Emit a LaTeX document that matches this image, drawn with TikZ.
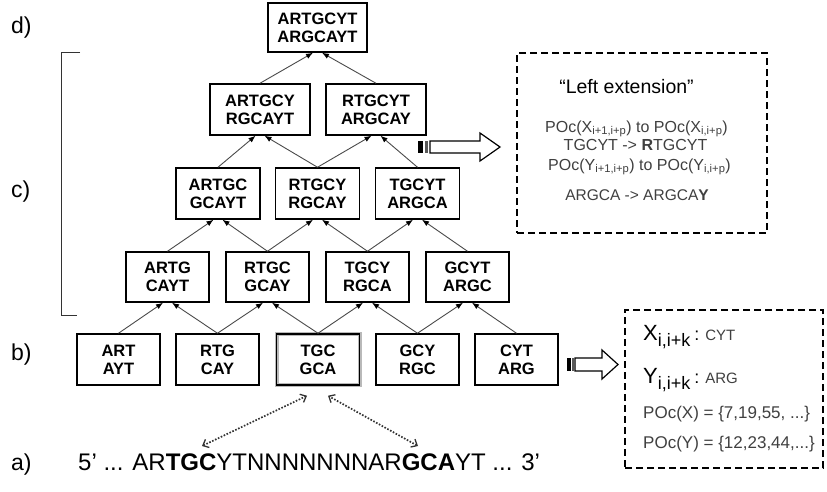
\documentclass[tikz,border=0pt]{standalone}
\usepackage{fontspec}
\setmainfont{Liberation Sans}
\usetikzlibrary{arrows.meta}
\definecolor{lgray}{HTML}{404040}
\definecolor{egray}{HTML}{4A4A4A}
\begin{document}
\begin{tikzpicture}[x=1pt,y=-1pt,
  tbox/.style={draw, line width=1.5pt, minimum width=83pt, minimum height=50pt, inner sep=0pt, align=center, font=\bfseries\fontsize{16.5}{18}\selectfont},
  conn/.style={draw=egray, line width=0.9pt, -{Latex[length=7pt,width=5.5pt,color=black]}},
  dbox/.style={draw, line width=1.4pt, dash pattern=on 7pt off 4pt},
  lab/.style={anchor=base west, inner sep=0pt, font=\fontsize{23}{26}\selectfont},
  gtext/.style={anchor=base, inner sep=0pt, text=lgray, font=\fontsize{16}{18}\selectfont},
  ptext/.style={anchor=base west, inner sep=0pt, text=lgray, font=\fontsize{17}{20}\selectfont},
  dotarr/.style={draw=black!80, line width=1.7pt, dash pattern=on 1.6pt off 1.6pt, {Straight Barb[length=5pt,width=9pt,line width=1.3pt]}-{Straight Barb[length=5pt,width=9pt,line width=1.3pt]}},
  blockarr/.style={draw, line width=1.2pt, fill=white, line join=miter}
]
\useasboundingbox (0,0) rectangle (827,491);
\fill[white] (0,0) rectangle (827,491);

% labels
\node[lab] (ld) at (11,33) {d)};
\node[lab] (lc) at (11,197) {c)};
\node[lab] (lb) at (11,360) {b)};
\node[lab] (la) at (11,470) {a)};

% bracket
\draw[line width=1pt, black!80] (80,52) -- (61,52) -- (61,315) -- (77,315);

% tree
\node[tbox, minimum width=99pt, minimum height=49pt] (n1) at (317.5,27.5) {ARTGCYT\\ARGCAYT};
\node[tbox, minimum width=100pt, minimum height=51pt] (n21) at (260,109.5) {ARTGCY\\RGCAYT};
\node[tbox, minimum width=100pt, minimum height=51pt] (n22) at (376,109.5) {RTGCYT\\ARGCAY};
\node[tbox, minimum width=84pt, minimum height=51pt] (n31) at (218,193.5) {ARTGC\\GCAYT};
\node[tbox, minimum width=84pt, minimum height=51pt] (n32) at (317.5,193.5) {RTGCY\\RGCAY};
\node[tbox, minimum width=84pt, minimum height=51pt] (n33) at (417.5,193.5) {TGCYT\\ARGCA};
\node[tbox] (n41) at (167.5,277) {ARTG\\CAYT};
\node[tbox] (n42) at (267.5,277) {RTGC\\GCAY};
\node[tbox] (n43) at (367.5,277) {TGCY\\RGCA};
\node[tbox] (n44) at (467.5,277) {GCYT\\ARGC};
\node[tbox, minimum height=51pt] (n51) at (118.5,359.5) {ART\\AYT};
\node[tbox, minimum height=51pt] (n52) at (217.5,359.5) {RTG\\CAY};
\node[tbox, minimum height=51pt, preaction={draw=gray!55, line width=4pt}] (n53) at (318,359.5) {TGC\\GCA};
\node[tbox, minimum height=51pt] (n54) at (417.5,359.5) {GCY\\RGC};
\node[tbox, minimum height=51pt] (n55) at (516.5,359.5) {CYT\\ARG};

\foreach \c/\p/\s in {n51/n41/-4.5, n52/n41/4.5, n52/n42/-4.5, n53/n42/4.5, n53/n43/-4.5, n54/n43/4.5, n54/n44/-4.5, n55/n44/4.5,
  n41/n31/-4.5, n42/n31/4.5, n42/n32/-4.5, n43/n32/4.5, n43/n33/-4.5, n44/n33/4.5,
  n31/n21/-4.5, n32/n21/4.5, n32/n22/-4.5, n33/n22/4.5,
  n21/n1/-4.5, n22/n1/4.5}
  \draw[conn] (\c.north) -- ([xshift=\s pt]\p.south);

% left extension box
\node[dbox, minimum width=250pt, minimum height=180pt] (lext) at (642,143) {};
\node[anchor=base, inner sep=0pt, font=\fontsize{19.5}{22}\selectfont] (ltitle) at (626.5,93) {“Left extension”};
\node[gtext] (l1) at (636.5,132) {POc(X\textsubscript{i+1,i+p}) to POc(X\textsubscript{i,i+p})};
\node[gtext] (l2) at (635.5,150) {TGCYT -> \textbf{R}TGCYT};
\node[gtext] (l3) at (639.5,170) {POc(Y\textsubscript{i+1,i+p}) to POc(Y\textsubscript{i,i+p})};
\node[gtext, font=\fontsize{15.5}{18}\selectfont] (l4) at (637,200) {ARGCA -> ARGCA\textbf{Y}};

% block arrow to left extension box
\fill[black] (418,141) rectangle (423,153);
\fill[black!65] (425,141) rectangle (428,153);
\draw[blockarr] (430,141) -- (480,141) -- (480,133) -- (500,147) -- (480,161) -- (480,153) -- (430,153) -- cycle;

% position box
\node[dbox, minimum width=198pt, minimum height=158pt] (pbox) at (724,389) {};
\node[anchor=base west, inner sep=0pt] (px) at (643,340) {\fontsize{22}{24}\selectfont X\raisebox{-6pt}{\fontsize{18}{20}\selectfont i,i+k}\hspace{4pt}\fontsize{18}{20}\selectfont :\hspace{6pt}\textcolor{lgray}{\fontsize{15}{18}\selectfont CYT}};
\node[anchor=base west, inner sep=0pt] (py) at (643,383) {\fontsize{22}{24}\selectfont Y\raisebox{-6pt}{\fontsize{18}{20}\selectfont i,i+k}\hspace{4pt}\fontsize{18}{20}\selectfont :\hspace{6pt}\textcolor{lgray}{\fontsize{15}{18}\selectfont ARG}};
\node[ptext] (pocx) at (643,418) {POc(X) = \{7,19,55, ...\}};
\node[ptext] (pocy) at (643,448) {POc(Y) = \{12,23,44,...\}};

% block arrow to position box
\fill[black] (567,358) rectangle (571,371);
\fill[black!65] (572,358) rectangle (574,371);
\draw[blockarr] (575,358) -- (602,358) -- (602,350) -- (618,364.5) -- (602,379) -- (602,371) -- (575,371) -- cycle;

% sequence
\node[anchor=base west, inner sep=0pt, font=\fontsize{24}{28}\selectfont] (seq) at (78,470) {5’ ... AR\textbf{TGC}YTNNNNNNNAR\textbf{GCA}YT ... 3’};
\coordinate (sL) at (202,446);
\coordinate (sR) at (418,446);
\draw[dotarr] (sL) -- ([xshift=-11pt,yshift=-10pt]n53.south);
\draw[dotarr] (sR) -- ([xshift=10pt,yshift=-10pt]n53.south);
\end{tikzpicture}
\end{document}
